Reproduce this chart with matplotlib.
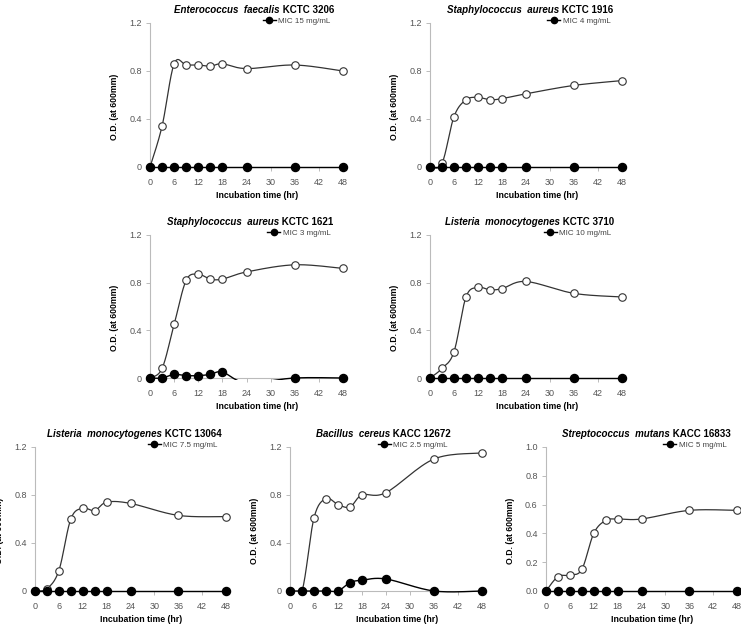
import numpy as np
import matplotlib
matplotlib.use("Agg")
import matplotlib.pyplot as plt
from matplotlib.lines import Line2D
from matplotlib.patches import Rectangle

plt.rcParams['font.family'] = ['Liberation Sans', 'DejaVu Sans']

# 배양 시간 (hr)
hours = [0, 3, 6, 9, 12, 15, 18, 24, 36, 48]

species = ["Enterococcus  faecalis", "Staphylococcus  aureus", "Staphylococcus  aureus",
           "Listeria  monocytogenes", "Listeria  monocytogenes", "Bacillus  cereus",
           "Streptococcus  mutans"]
strains = ["KCTC 3206", "KCTC 1916", "KCTC 1621", "KCTC 3710", "KCTC 13064",
           "KACC 12672", "KACC 16833"]
mic_labels = ["MIC 15 mg/mL", "MIC 4 mg/mL", "MIC 3 mg/mL", "MIC 10 mg/mL",
              "MIC 7.5 mg/mL", "MIC 2.5 mg/mL", "MIC 5 mg/mL"]

# control (open circles)
ctrl_ef = [0, 0.34, 0.86, 0.85, 0.85, 0.84, 0.86, 0.82, 0.85, 0.80]
ctrl_sa1916 = [0, 0.03, 0.42, 0.56, 0.58, 0.56, 0.57, 0.61, 0.68, 0.72]
ctrl_sa1621 = [0, 0.08, 0.45, 0.82, 0.87, 0.83, 0.83, 0.89, 0.95, 0.92]
ctrl_lm3710 = [0, 0.08, 0.22, 0.68, 0.76, 0.74, 0.75, 0.81, 0.71, 0.68]
ctrl_lm13064 = [0, 0.02, 0.17, 0.60, 0.69, 0.67, 0.74, 0.73, 0.63, 0.62]
ctrl_bc = [0, 0, 0.61, 0.77, 0.72, 0.70, 0.80, 0.82, 1.10, 1.15]
ctrl_sm = [0, 0.10, 0.11, 0.15, 0.40, 0.49, 0.50, 0.50, 0.56, 0.56]

# MIC treated (filled circles)
mic_ef = [0, 0, 0, 0, 0, 0, 0, 0, 0, 0]
mic_sa1916 = [0, 0, 0, 0, 0, 0, 0, 0, 0, 0]
mic_sa1621 = [0, 0, 0.03, 0.02, 0.02, 0.03, 0.05, -0.04, 0, 0]
mic_lm3710 = [0, 0, 0, 0, 0, 0, 0, 0, 0, 0]
mic_lm13064 = [0, 0, 0, 0, 0, 0, 0, 0, 0, 0]
mic_bc = [0, 0, 0, 0, 0, 0.07, 0.09, 0.10, 0, 0]
mic_sm = [0, 0, 0, 0, 0, 0, 0, 0, 0, 0]

ctrl_all = [ctrl_ef, ctrl_sa1916, ctrl_sa1621, ctrl_lm3710, ctrl_lm13064, ctrl_bc, ctrl_sm]
mic_all = [mic_ef, mic_sa1916, mic_sa1621, mic_lm3710, mic_lm13064, mic_bc, mic_sm]
ymax_all = [1.2, 1.2, 1.2, 1.2, 1.2, 1.2, 1.0]

# 축 위치 (픽셀 기준: left, top, width, height)
W, H = 741, 625
boxes = [(150, 23, 193, 144), (430, 23, 192, 144),
         (150, 235, 193, 143), (430, 235, 192, 143),
         (35, 447, 191, 144), (290, 447, 192, 144), (546, 447, 191, 144)]
title_x = [0.54, 0.52, 0.52, 0.52, 0.52, 0.485, 0.525]
legend_x = [0.935, 0.94, 0.935, 0.945, 0.955, 0.82, 0.945]


def smooth(x, y, n=16):
    # excel 스타일 smoothed line (bezier)
    pts = np.column_stack([x, y]).astype(float)
    ext = np.vstack([pts[0], pts, pts[-1]])
    out = [pts[:1]]
    t = np.linspace(0, 1, n + 1)[1:, None]
    for i in range(len(pts) - 1):
        p0, p1, p2, p3 = ext[i], ext[i + 1], ext[i + 2], ext[i + 3]
        c1 = p1 + (p2 - p0) / 6
        c2 = p2 - (p3 - p1) / 6
        seg = (1 - t) ** 3 * p1 + 3 * (1 - t) ** 2 * t * c1 + 3 * (1 - t) * t ** 2 * c2 + t ** 3 * p2
        out.append(seg)
    out = np.vstack(out)
    return out[:, 0], out[:, 1]


fig = plt.figure(figsize=(W / 100, H / 100), dpi=100)
renderer = fig.canvas.get_renderer()

for i in range(7):
    l, tp, w, h = boxes[i]
    ax = fig.add_axes([l / W, 1 - (tp + h) / H, w / W, h / H])
    clip = Rectangle((-0.02, -0.012), 1.04, 1.03, transform=ax.transAxes, visible=False)
    ax.add_patch(clip)

    xs, ys = smooth(hours, ctrl_all[i])
    ln, = ax.plot(xs, ys, color='#333333', lw=0.9, zorder=2)
    ln.set_clip_path(clip)
    ax.plot(hours, ctrl_all[i], 'o', ms=5.4, mfc='white', mec='#333333', mew=0.8,
            clip_on=False, zorder=3)

    xs, ys = smooth(hours, mic_all[i])
    ln, = ax.plot(xs, ys, color='black', lw=1.0, zorder=4)
    ln.set_clip_path(clip)
    hx = [hx for hx, v in zip(hours, mic_all[i]) if v >= 0]
    hy = [v for v in mic_all[i] if v >= 0]
    ax.plot(hx, hy, 'o', ms=5.8, color='black', clip_on=False, zorder=5)

    ax.set_xlim(0, 48)
    ax.set_ylim(0, ymax_all[i])
    ax.set_xticks(range(0, 49, 6))
    if ymax_all[i] == 1.0:
        yt = [0, 0.2, 0.4, 0.6, 0.8, 1.0]
        ax.set_yticks(yt)
        ax.set_yticklabels(['%.1f' % v for v in yt])
    else:
        yt = [0, 0.4, 0.8, 1.2]
        ax.set_yticks(yt)
        ax.set_yticklabels(['0', '0.4', '0.8', '1.2'])

    for s in ['top', 'right']:
        ax.spines[s].set_visible(False)
    for s in ['left', 'bottom']:
        ax.spines[s].set_color('#bbbbbb')
        ax.spines[s].set_linewidth(0.8)
    ax.tick_params(axis='both', length=3, width=0.7, color='#bbbbbb',
                   labelsize=6.5, labelcolor='#555555')
    ax.tick_params(axis='x', pad=5)
    ax.tick_params(axis='y', pad=3)

    ax.set_xlabel('Incubation time (hr)', fontsize=6.3, fontweight='bold')
    ax.xaxis.set_label_coords(0.557, -0.165)
    ax.set_ylabel('O.D. (at 600mm)', fontsize=6.2, fontweight='bold')
    ax.yaxis.set_label_coords(-0.16, 0.42)

    handle = Line2D([], [], color='black', lw=1.0, marker='o', ms=4.5)
    ax.legend([handle], [mic_labels[i]], loc='center right',
              bbox_to_anchor=(legend_x[i], 1.015), frameon=False, fontsize=5.8,
              handlelength=1.6, handletextpad=0.3, borderpad=0, borderaxespad=0,
              labelcolor='#444444')

    # 제목: 학명 이탤릭 + 균주 번호
    t1 = ax.text(0, 1.09, species[i], transform=ax.transAxes, fontsize=7,
                 fontstyle='italic', fontweight='bold', va='center')
    t2 = ax.text(0, 1.09, ' ' + strains[i], transform=ax.transAxes, fontsize=7,
                 fontweight='bold', va='center')
    w1 = t1.get_window_extent(renderer).width
    w2 = t2.get_window_extent(renderer).width
    aw = ax.get_window_extent(renderer).width
    x0 = title_x[i] - (w1 + w2) / 2 / aw
    t1.set_x(x0)
    t2.set_x(x0 + w1 / aw)

fig.savefig('out.png', dpi=100)
